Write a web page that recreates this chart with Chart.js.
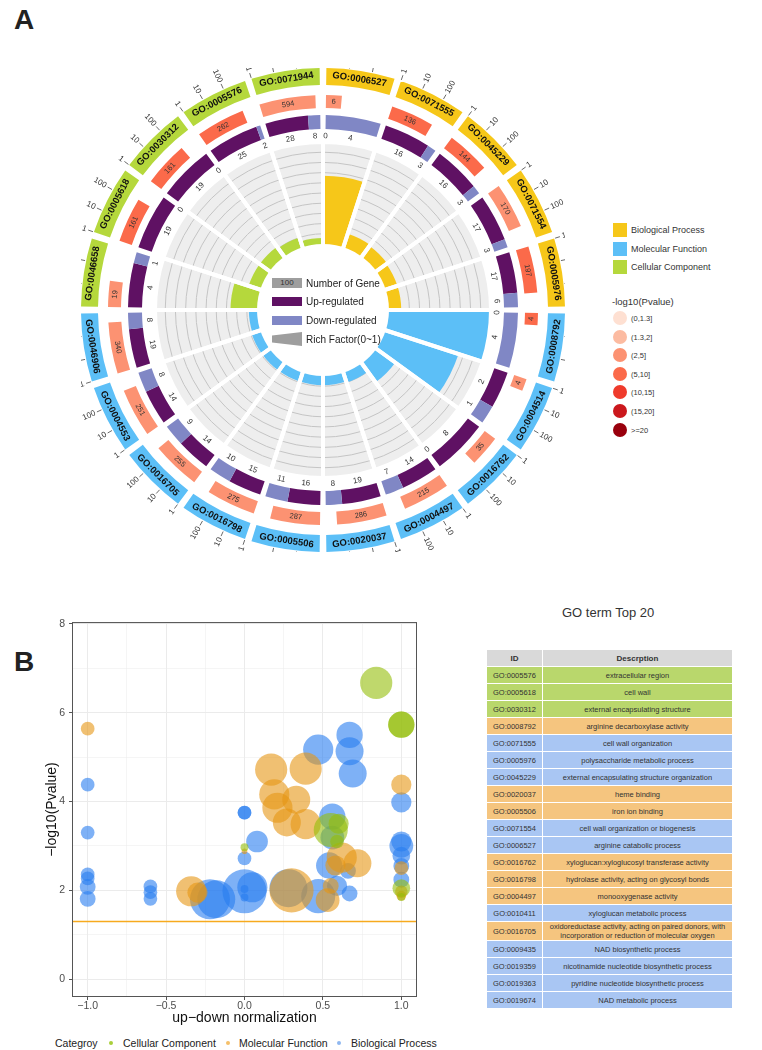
<!DOCTYPE html>
<html>
<head>
<meta charset="utf-8">
<script src="https://cdn.jsdelivr.net/npm/chart.js@4.4.0/dist/chart.umd.min.js"></script>
<style>
  body { margin: 0; background: #fff; font-family: "Liberation Sans", Arial, sans-serif; color: #222; }
  #page { position: relative; width: 762px; height: 1050px; overflow: hidden; }
  .abs { position: absolute; }
  .lbl { position: absolute; white-space: nowrap; transform: translateY(-50%); }
  #topTable { position: absolute; left: 486px; top: 649px; width: 247px; border-collapse: collapse; font-size: 7.5px; color: #333; }
  #topTable td, #topTable th { border: 1px solid #fff; text-align: center; padding: 0 3px; height: 16px; line-height: 9px; }
  #topTable th { background: #d9d9d9; font-weight: bold; font-size: 8px; }
</style>
</head>
<body>
<div id="page">
  <div class="abs" style="left:14px;top:4px;font-size:28px;font-weight:bold;">A</div>
  <canvas id="ring" class="abs" width="484" height="484" style="left:81px;top:68px;"></canvas>
  <canvas id="rich" class="abs" width="336" height="336" style="left:155px;top:142px;"></canvas>
  <div id="centerLegend"></div>
  <div id="rightLegend"></div>

  <div class="abs" style="left:14px;top:646px;font-size:28px;font-weight:bold;">B</div>
  <canvas id="bubble" class="abs" width="440" height="427" style="left:0;top:600px;"></canvas>
  <div id="bottomLegend"></div>
  <div class="lbl" style="left:562px;top:612px;font-size:13px;color:#333;">GO term Top 20</div>
  <table id="topTable"></table>
</div>

<script>
// ---- Panel A: circle data (clockwise from 12 o'clock) ----
const goIds = ["GO:0006527", "GO:0071555", "GO:0045229", "GO:0071554", "GO:0005976",
  "GO:0008792", "GO:0004514", "GO:0016762", "GO:0004497", "GO:0020037",
  "GO:0005506", "GO:0016798", "GO:0016705", "GO:0004553", "GO:0046906",
  "GO:0046658", "GO:0005618", "GO:0030312", "GO:0005576", "GO:0071944"];
const goCategory = ["BP", "BP", "BP", "BP", "BP",
  "MF", "MF", "MF", "MF", "MF", "MF", "MF", "MF", "MF", "MF",
  "CC", "CC", "CC", "CC", "CC"];
const geneNumber = [6, 136, 144, 170, 197, 4, 4, 35, 215, 286, 287, 275, 255, 251, 340, 19, 161, 161, 262, 594];
const upRegulated = [0, 16, 16, 17, 17, 0, 2, 8, 14, 19, 16, 15, 14, 14, 19, 4, 19, 19, 25, 28];
const downRegulated = [4, 3, 3, 3, 6, 4, 1, 0, 7, 8, 11, 10, 9, 8, 8, 1, 0, 0, 2, 8];
const negLogP = [4.38, 5.5, 5.13, 4.63, 5.17, 5.64, 3.3, 4.38, 4.04, 4.72, 4.74, 4.16, 3.86, 3.53, 3.49, 3.5, 5.73, 5.73, 6.67, 3.36];
const richFactor = [0.67, 0.14, 0.13, 0.12, 0.12, 1.0, 0.75, 0.23, 0.1, 0.09, 0.09, 0.09, 0.09, 0.09, 0.08, 0.26, 0.12, 0.12, 0.1, 0.06];
const geneAxisTicks = [1, 10, 100];
const geneAxisMaxLog = 3;
const pBinEdges = [1.3, 2, 5, 10, 15, 20];
const pBinLabels = ["(0,1.3]", "(1.3,2]", "(2,5]", "(5,10]", "(10,15]", "(15,20]", ">=20"];
const categoryNames = { BP: "Biological Process", MF: "Molecular Function", CC: "Cellular Component" };

// ---- Panel B: bubble data ----
const ccX = [0.84, 1.0, 1.0, 0.55, 0.6, 0.59, 0.0, 1.0, 1.0];
const ccY = [6.67, 5.73, 5.73, 3.36, 3.5, 3.1, 2.97, 2.05, 1.85];
const ccGenes = [33, 22, 22, 37, 13, 6, 2, 10, 2];
const mfX = [-1.0, 0.17, 0.39, 1.0, 0.19, 0.33, 0.21, 0.27, 0.39, 0.0, 0.62, 0.72, 0.58, 1.0, 1.0, 1.0, -0.34, -0.3, 0.3, 0.53, 0.55];
const mfY = [5.64, 4.72, 4.74, 4.38, 4.16, 4.04, 3.86, 3.53, 3.49, 2.88, 2.74, 2.61, 2.56, 2.5, 1.97, 1.88, 1.98, 1.95, 2.0, 1.78, 2.1];
const mfGenes = [6, 33, 33, 13, 29, 25, 29, 25, 29, 1, 29, 25, 13, 6, 5, 3, 29, 13, 62, 18, 8];
const bpX = [0.67, 0.47, 0.67, 0.69, -1.0, 1.0, 0.0, 0.0, 0.56, 0.56, 0.08, -1.0, 0.0, 0.54, 0.66, 1.0, 1.0, 1.0, 1.0, 1.0,
  -1.0, -1.0, -1.0, -1.0, -0.6, -0.6, -0.6, -0.22, -0.18, 0.0, 0.05, 0.0, 0.0, 0.28, 0.47, 0.59, 0.67];
const bpY = [5.5, 5.17, 5.13, 4.63, 4.38, 3.98, 3.75, 3.75, 3.66, 3.19, 3.1, 3.3, 2.72, 2.56, 2.44, 3.1, 3.0, 2.78, 2.55, 2.24,
  2.36, 2.27, 2.08, 1.81, 2.09, 1.96, 1.81, 1.8, 1.8, 1.98, 2.07, 2.03, 1.84, 2.05, 1.87, 2.1, 1.93];
const bpGenes = [22, 29, 25, 25, 6, 13, 6, 6, 22, 18, 15, 6, 6, 22, 8, 13, 18, 10, 8, 8,
  6, 6, 8, 8, 6, 6, 6, 51, 46, 62, 29, 2, 2, 46, 37, 13, 8];
const xTicks = [-1, -0.75, -0.5, -0.25, 0, 0.25, 0.5, 0.75, 1];
const yTicks = [0, 1, 2, 3, 4, 5, 6, 7, 8];
const pCutoff = 1.3;

// ---- Top 20 table ----
const topIds = ["GO:0005576", "GO:0005618", "GO:0030312", "GO:0008792", "GO:0071555", "GO:0005976", "GO:0045229",
  "GO:0020037", "GO:0005506", "GO:0071554", "GO:0006527", "GO:0016762", "GO:0016798", "GO:0004497", "GO:0010411",
  "GO:0016705", "GO:0009435", "GO:0019359", "GO:0019363", "GO:0019674"];
const topTerms = ["extracellular region", "cell wall", "external encapsulating structure", "arginine decarboxylase activity",
  "cell wall organization", "polysaccharide metabolic process", "external encapsulating structure organization",
  "heme binding", "iron ion binding", "cell wall organization or biogenesis", "arginine catabolic process",
  "xyloglucan:xyloglucosyl transferase activity", "hydrolase activity, acting on glycosyl bonds",
  "monooxygenase activity", "xyloglucan metabolic process",
  "oxidoreductase activity, acting on paired donors, with incorporation or reduction of molecular oxygen",
  "NAD biosynthetic process", "nicotinamide nucleotide biosynthetic process",
  "pyridine nucleotide biosynthetic process", "NAD metabolic process"];
const topCategory = ["CC", "CC", "CC", "MF", "BP", "BP", "BP", "MF", "MF", "BP", "BP", "MF", "MF", "MF", "BP", "MF", "BP", "BP", "BP", "BP"];

// ---- colours ----
const catColor = { BP: "#F6C719", MF: "#5CBFF7", CC: "#B5D83C" };
const pColors = ["#FEE0D2", "#FCBBA1", "#FC9272", "#FB6A4A", "#EF3B2C", "#CB181D", "#99000D"];
const upColor = "#5F1163";
const downColor = "#8087C5";
const CLEAR = "rgba(0,0,0,0)";
const tableColor = { CC: "#B9D76C", MF: "#F5C57F", BP: "#A9C6F3" };
const bubbleColor = { CC: "rgba(148,190,10,0.6)", MF: "rgba(230,150,20,0.6)", BP: "rgba(40,125,240,0.6)" };

Chart.defaults.font.family = "'Liberation Sans', Arial, sans-serif";

const pBin = (v) => {
  const i = pBinEdges.findIndex((e) => v <= e);
  return i === -1 ? pBinEdges.length : i;
};

// Circle ring setup
const SEG = 360 / goIds.length;
const GAP = 1.6;
const SPAN = SEG - GAP;

function ring(parts, weight) {
  const data = [];
  const colors = [];
  goIds.forEach((id, i) => {
    [[GAP / 2, CLEAR], ...parts(i), [GAP / 2, CLEAR]].forEach(([v, c]) => {
      data.push(v);
      colors.push(c);
    });
  });
  return { data, backgroundColor: colors, weight, borderWidth: 0 };
}
const blank = (weight, color) => ({ data: [360], backgroundColor: [color || CLEAR], weight, borderWidth: 0 });
const geneFill = (i) => (SPAN * Math.log10(geneNumber[i])) / geneAxisMaxLog;
const upFill = (i) => (SPAN * upRegulated[i]) / (upRegulated[i] + downRegulated[i]);

function drawRingText(ctx, cx, cy, text, deg, r, mode, font, color) {
  const rad = (deg * Math.PI) / 180;
  const x = cx + r * Math.sin(rad);
  const y = cy - r * Math.cos(rad);
  let rot;
  let align = "center";
  if (mode === "tan") {
    rot = deg > 90 && deg < 270 ? deg - 180 : deg;
  } else {
    rot = deg <= 180 ? deg - 90 : deg + 90;
    align = deg <= 180 ? "left" : "right";
  }
  ctx.save();
  ctx.translate(x, y);
  ctx.rotate((rot * Math.PI) / 180);
  ctx.font = font;
  ctx.fillStyle = color;
  ctx.textAlign = align;
  ctx.textBaseline = "middle";
  ctx.fillText(text, 0, 0);
  ctx.restore();
}

const ringText = {
  id: "ringText",
  afterDatasetsDraw(chart) {
    const ctx = chart.ctx;
    const goArc = chart.getDatasetMeta(0).data[1];
    const geneArc = chart.getDatasetMeta(2).data[1];
    const udArc = chart.getDatasetMeta(4).data[1];
    const cx = goArc.x;
    const cy = goArc.y;
    goIds.forEach((id, i) => {
      const start = i * SEG + GAP / 2;
      // GO id in outer ring
      drawRingText(ctx, cx, cy, id, start + SPAN / 2, (goArc.innerRadius + goArc.outerRadius) / 2,
        "tan", "bold 9.5px 'Liberation Sans', Arial", "#111");
      // gene axis ticks 1 / 10 / 100
      geneAxisTicks.forEach((t) => {
        const deg = start + (SPAN * Math.log10(t)) / geneAxisMaxLog;
        const rad = (deg * Math.PI) / 180;
        ctx.save();
        ctx.strokeStyle = "#444";
        ctx.lineWidth = 0.8;
        ctx.beginPath();
        ctx.moveTo(cx + (goArc.outerRadius + 1) * Math.sin(rad), cy - (goArc.outerRadius + 1) * Math.cos(rad));
        ctx.lineTo(cx + (goArc.outerRadius + 6) * Math.sin(rad), cy - (goArc.outerRadius + 6) * Math.cos(rad));
        ctx.stroke();
        ctx.restore();
        drawRingText(ctx, cx, cy, String(t), deg, goArc.outerRadius + 8, "rad", "8px 'Liberation Sans', Arial", "#333");
      });
      // gene number inside the bar
      drawRingText(ctx, cx, cy, String(geneNumber[i]), start + geneFill(i) / 2,
        (geneArc.innerRadius + geneArc.outerRadius) / 2, "tan", "7.5px 'Liberation Sans', Arial", "#333");
      // up / down counts
      const u = upFill(i);
      const rText = udArc.innerRadius - 7;
      drawRingText(ctx, cx, cy, String(upRegulated[i]), start + u / 2, rText, "tan", "8px 'Liberation Sans', Arial", "#333");
      drawRingText(ctx, cx, cy, String(downRegulated[i]), start + u + (SPAN - u) / 2, rText, "tan", "8px 'Liberation Sans', Arial", "#333");
    });
  },
};

new Chart(document.getElementById("ring"), {
  type: "doughnut",
  data: {
    datasets: [
      ring((i) => [[SPAN, catColor[goCategory[i]]]], 17),
      blank(10),
      ring((i) => [[geneFill(i), pColors[pBin(negLogP[i])]], [SPAN - geneFill(i), CLEAR]], 13),
      blank(7),
      ring((i) => [[upFill(i), upColor], [SPAN - upFill(i), downColor]], 14),
      blank(13),
      blank(102, "#EEEEEE"),
    ],
  },
  options: {
    responsive: false,
    animation: false,
    events: [],
    cutout: 66,
    plugins: { legend: { display: false }, tooltip: { enabled: false } },
  },
  plugins: [ringText],
});

// Rich factor (polar) with white centre
const centerHole = {
  id: "centerHole",
  afterDatasetsDraw(chart) {
    const s = chart.scales.r;
    const ctx = chart.ctx;
    ctx.save();
    ctx.fillStyle = "#fff";
    ctx.beginPath();
    ctx.arc(s.xCenter, s.yCenter, s.getDistanceFromCenterForValue(0), 0, Math.PI * 2);
    ctx.fill();
    ctx.restore();
  },
};

new Chart(document.getElementById("rich"), {
  type: "polarArea",
  data: {
    labels: goIds,
    datasets: [
      { data: goIds.map(() => 1), backgroundColor: CLEAR, borderColor: "#fff", borderWidth: 4 },
      { data: richFactor, backgroundColor: goCategory.map((c) => catColor[c]), borderWidth: 0 },
    ],
  },
  options: {
    responsive: false,
    animation: false,
    events: [],
    plugins: { legend: { display: false }, tooltip: { enabled: false } },
    scales: {
      r: {
        min: -0.647,
        max: 1,
        ticks: { display: false, stepSize: 0.1 },
        grid: { color: (c) => (c.tick && c.tick.value > 0.05 ? "#C4C4C4" : CLEAR), lineWidth: 1 },
        angleLines: { display: false },
        pointLabels: { display: false },
      },
    },
  },
  plugins: [centerHole],
});

// Legends of panel A
(() => {
  const cl = document.getElementById("centerLegend");
  cl.innerHTML =
    '<div class="abs" style="left:272px;top:278px;width:30px;height:10px;background:#9E9E9E;font-size:8px;line-height:10px;text-align:center;color:#333;">100</div>' +
    '<div class="lbl" style="left:306px;top:283px;font-size:10px;">Number of Gene</div>' +
    `<div class="abs" style="left:272px;top:297px;width:30px;height:9px;background:${upColor};"></div>` +
    '<div class="lbl" style="left:306px;top:301px;font-size:10px;">Up-regulated</div>' +
    `<div class="abs" style="left:272px;top:316px;width:30px;height:9px;background:${downColor};"></div>` +
    '<div class="lbl" style="left:306px;top:320px;font-size:10px;">Down-regulated</div>' +
    '<div class="abs" style="left:272px;top:332px;width:30px;height:14px;background:#9E9E9E;clip-path:polygon(0 25%,100% 0,100% 100%,0 75%);"></div>' +
    '<div class="lbl" style="left:306px;top:339px;font-size:10px;">Rich Factor(0~1)</div>';

  const rl = document.getElementById("rightLegend");
  let html = "";
  ["BP", "MF", "CC"].forEach((c, i) => {
    const y = 230 + i * 18.7;
    html += `<div class="abs" style="left:613px;top:${y - 7}px;width:14px;height:14px;background:${catColor[c]};"></div>`;
    html += `<div class="lbl" style="left:631px;top:${y}px;font-size:9px;color:#333;">${categoryNames[c]}</div>`;
  });
  html += '<div class="lbl" style="left:612px;top:301px;font-size:9.5px;color:#333;">-log10(Pvalue)</div>';
  pBinLabels.forEach((t, i) => {
    const y = 318 + i * 18.6;
    html += `<div class="abs" style="left:613px;top:${y - 7}px;width:14px;height:14px;border-radius:50%;background:${pColors[i]};"></div>`;
    html += `<div class="lbl" style="left:631px;top:${y}px;font-size:7.5px;color:#333;">${t}</div>`;
  });
  rl.innerHTML = html;
})();

// ---- Panel B bubble chart ----
const toBubbles = (xs, ys, ns) => xs.map((x, i) => ({ x, y: ys[i], r: Math.sqrt(ns[i]) * 2.8 }));
const fmtX = (v) => v.toFixed(1).replace("-", "\u2212");

const panelBorder = {
  id: "panelBorder",
  afterDraw(chart) {
    const { ctx, chartArea: a } = chart;
    ctx.save();
    ctx.strokeStyle = "#555";
    ctx.lineWidth = 1;
    ctx.strokeRect(a.left + 0.5, a.top + 0.5, a.width - 1, a.height - 1);
    ctx.restore();
  },
};

// p = 0.05 threshold, placed through the y scale
const cutoffLine = {
  id: "cutoffLine",
  afterDatasetsDraw(chart) {
    const { ctx, chartArea: a, scales } = chart;
    const y = scales.y.getPixelForValue(pCutoff);
    ctx.save();
    ctx.strokeStyle = "rgb(247,170,30)";
    ctx.lineWidth = 1.5;
    ctx.beginPath();
    ctx.moveTo(a.left, y);
    ctx.lineTo(a.right, y);
    ctx.stroke();
    ctx.restore();
  },
};

new Chart(document.getElementById("bubble"), {
  type: "bubble",
  data: {
    datasets: [
      { label: "Cellular Component", data: toBubbles(ccX, ccY, ccGenes), backgroundColor: bubbleColor.CC, borderWidth: 0, order: 1 },
      { label: "Molecular Function", data: toBubbles(mfX, mfY, mfGenes), backgroundColor: bubbleColor.MF, borderWidth: 0, order: 2 },
      { label: "Biological Process", data: toBubbles(bpX, bpY, bpGenes), backgroundColor: bubbleColor.BP, borderWidth: 0, order: 3 },
    ],
  },
  options: {
    responsive: false,
    animation: false,
    events: [],
    layout: { padding: { left: 44, top: 22, right: 23, bottom: 0 } },
    plugins: { legend: { display: false }, tooltip: { enabled: false } },
    scales: {
      x: {
        type: "linear",
        min: -1.1,
        max: 1.1,
        afterBuildTicks: (s) => { s.ticks = xTicks.map((v) => ({ value: v })); },
        afterFit: (s) => { s.height = 30; },
        border: { display: false },
        grid: {
          color: "#EBEBEB",
          lineWidth: (c) => (Number.isInteger(c.tick.value * 2) ? 1 : 0.5),
          tickColor: (c) => (Number.isInteger(c.tick.value * 2) ? "#555" : CLEAR),
          tickLength: 3,
        },
        ticks: {
          padding: 0,
          color: "#4D4D4D",
          font: { size: 10.5 },
          maxRotation: 0,
          callback: (v) => (Number.isInteger(v * 2) ? fmtX(v) : ""),
        },
        title: { display: true, text: "up\u2212down normalization", font: { size: 14 }, color: "#111", padding: 0 },
      },
      y: {
        min: -0.4,
        max: 8.04,
        afterBuildTicks: (s) => { s.ticks = yTicks.map((v) => ({ value: v })); },
        afterFit: (s) => { s.width = 28; },
        border: { display: false },
        grid: {
          color: "#EBEBEB",
          lineWidth: (c) => (c.tick.value % 2 === 0 ? 1 : 0.5),
          tickColor: (c) => (c.tick.value % 2 === 0 ? "#555" : CLEAR),
          tickLength: 3,
        },
        ticks: {
          padding: 4,
          color: "#4D4D4D",
          font: { size: 10.5 },
          callback: (v) => (v % 2 === 0 ? String(v) : ""),
        },
        title: { display: true, text: "\u2212log10(Pvalue)", font: { size: 14 }, color: "#111", padding: 0 },
      },
    },
  },
  plugins: [cutoffLine, panelBorder],
});

// Bottom legend of panel B
(() => {
  const items = [
    ["Cellular Component", "#A9CF3B", 111, 123],
    ["Molecular Function", "#F5C06A", 228, 239],
    ["Biological Process", "#8FB7F0", 339, 351],
  ];
  let html = '<div class="lbl" style="left:55px;top:1043px;font-size:10.5px;">Categroy</div>';
  items.forEach(([t, c, dx, tx]) => {
    html += `<div class="abs" style="left:${dx - 2}px;top:1041px;width:4px;height:4px;border-radius:50%;background:${c};"></div>`;
    html += `<div class="lbl" style="left:${tx}px;top:1043px;font-size:10.5px;">${t}</div>`;
  });
  document.getElementById("bottomLegend").innerHTML = html;
})();

// Top 20 table
(() => {
  let html = '<tr><th style="width:49px;">ID</th><th>Descrption</th></tr>';
  topIds.forEach((id, i) => {
    const bg = tableColor[topCategory[i]];
    html += `<tr style="background:${bg};"><td>${id}</td><td>${topTerms[i]}</td></tr>`;
  });
  document.getElementById("topTable").innerHTML = html;
})();
</script>
</body>
</html>
